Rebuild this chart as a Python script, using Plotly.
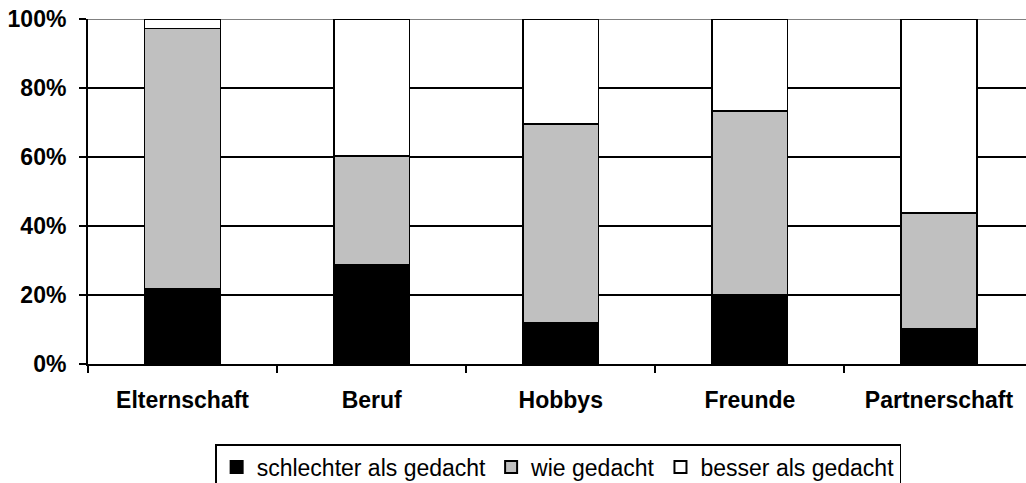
import plotly.graph_objects as go

categories = ["Elternschaft", "Beruf", "Hobbys", "Freunde", "Partnerschaft"]
schlechter = [0.218, 0.289, 0.120, 0.202, 0.102]
wie = [0.755, 0.314, 0.576, 0.531, 0.335]
besser = [round(1 - a - b, 3) for a, b in zip(schlechter, wie)]
series_names = ["schlechter als gedacht", "wie gedacht", "besser als gedacht"]
series_colors = ["#000000", "#C0C0C0", "#FFFFFF"]
y_ticks = [0, 0.2, 0.4, 0.6, 0.8, 1.0]
y_ticktext = ["0%", "20%", "40%", "60%", "80%", "100%"]

FONT = "Liberation Sans, Arial, sans-serif"

fig = go.Figure()
for name, vals, col in zip(series_names, [schlechter, wie, besser], series_colors):
    fig.add_trace(go.Bar(
        x=categories, y=vals, name=name, width=0.40,
        marker=dict(color=col, line=dict(color="#000000", width=1.5)),
    ))

fig.update_layout(
    barmode="stack",
    width=1026, height=483,
    margin=dict(l=88, r=0, t=19, b=119, autoexpand=False),
    paper_bgcolor="white", plot_bgcolor="white",
    font=dict(family=FONT, color="black"),
    showlegend=True,
    hovermode=False,
    legend=dict(
        orientation="h", xref="container", yref="container",
        x=0.544, xanchor="center", y=1 - 444 / 483, yanchor="top",
        bordercolor="black", borderwidth=1.5,
        font=dict(family=FONT, size=23, color="black"),
        traceorder="normal", itemsizing="constant", itemwidth=30,
        tracegroupgap=0,
    ),
    xaxis=dict(
        type="category", range=[-0.5, 4.46], automargin=False,
        showline=True, linecolor="black", linewidth=2,
        ticks="outside", tickson="boundaries", ticklen=7, tickwidth=2, tickcolor="black",
        tickfont=dict(family=FONT, size=23, color="black", weight="bold"),
        ticklabelstandoff=14,
        showgrid=False, zeroline=False,
    ),
    yaxis=dict(
        range=[0, 1], tickvals=y_ticks, ticktext=y_ticktext, automargin=False,
        showline=True, linecolor="black", linewidth=2,
        ticks="outside", ticklen=7, tickwidth=2, tickcolor="black",
        tickfont=dict(family=FONT, size=23, color="black", weight="bold"),
        ticklabelstandoff=8,
        showgrid=True, gridcolor="black", gridwidth=2,
        zeroline=False,
    ),
)

fig.add_shape(type="line", xref="paper", yref="y", x0=0, x1=1, y0=1, y1=1,
              line=dict(color="#808080", width=2), layer="between")

fig.write_html(
    "out.html",
    config={"displayModeBar": False},
    post_script="document.body.style.margin='0';document.body.style.overflow='hidden';",
)
